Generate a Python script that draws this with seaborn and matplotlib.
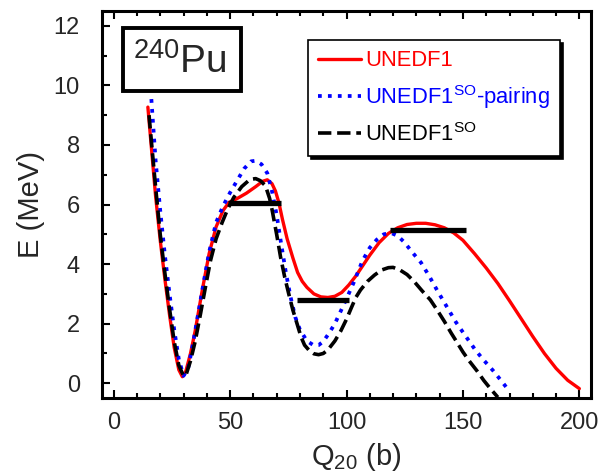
import seaborn as sns
import pandas as pd
import matplotlib.pyplot as plt
from matplotlib.patches import Rectangle
from matplotlib.ticker import MultipleLocator

# deformation energy curves
q_unedf1 = [14.7, 16, 18, 20, 22, 24, 26, 28, 29.5, 31, 33, 35, 38, 41, 44, 47, 49.5, 53, 57, 61,
            64, 66, 68, 69.5, 71, 72.5, 74.5, 77, 79, 81, 83, 86, 89, 92, 95, 98, 101, 104, 107, 110,
            114, 118, 122, 126, 130, 134, 138, 142, 146, 150, 155, 160, 165, 170, 175, 180, 185, 190,
            195, 200]
e_unedf1 = [9.27, 8.1, 6.3, 4.8, 3.5, 2.3, 1.2, 0.45, 0.22, 0.4, 1.0, 1.75, 3.1, 4.35, 5.25, 5.8, 6.07,
            6.2, 6.38, 6.6, 6.78, 6.83, 6.7, 6.45, 6.05, 5.5, 4.85, 4.2, 3.72, 3.42, 3.22, 3.0, 2.9, 2.88,
            2.92, 3.05, 3.3, 3.6, 3.95, 4.3, 4.72, 5.03, 5.22, 5.33, 5.37, 5.37, 5.32, 5.22, 5.05, 4.8,
            4.35, 3.87, 3.35, 2.77, 2.17, 1.57, 1.0, 0.5, 0.1, -0.18]

q_so_pair = [16.2, 18, 20, 22, 24, 26, 28, 30, 32, 34, 36, 38, 41, 44, 47, 50, 53, 56, 59, 61, 63.5,
             66, 68, 70, 72, 74, 76, 78, 80, 83, 86, 88, 90, 92.5, 95, 98, 100.3, 103.2, 106.8, 110,
             113, 116, 119, 122, 125, 128, 132, 135.5, 139, 143, 147, 151, 155.5, 159, 163, 166.5, 170]
e_so_pair = [9.54, 7.5, 5.8, 4.3, 3.0, 1.8, 0.8, 0.25, 0.5, 1.3, 2.2, 3.1, 4.4, 5.4, 5.95, 6.4, 6.8, 7.2,
             7.45, 7.47, 7.35, 7.05, 6.45, 5.65, 4.65, 3.7, 2.89, 2.22, 1.8, 1.42, 1.27, 1.28, 1.4, 1.68,
             2.0, 2.5, 2.89, 3.4, 4.1, 4.55, 4.82, 5.0, 5.05, 4.95, 4.72, 4.42, 4.05, 3.6, 3.11, 2.58,
             2.05, 1.6, 1.1, 0.77, 0.42, 0.08, -0.27]

q_so = [15.2, 16, 18, 20, 22, 24, 26, 28, 30, 31, 33, 35, 37.3, 39.4, 41.6, 44, 46.6, 49, 51.6, 55, 58.5,
        61, 63, 65.2, 67, 68.1, 70, 71.7, 73.5, 75.2, 77, 78.8, 80.5, 82, 84, 86, 88, 90, 92, 95, 97.5,
        100, 102, 104, 106, 109, 112, 115, 118, 120, 123, 126, 129, 132.5, 136, 139, 142, 145, 147,
        150, 152.6, 156, 159, 162, 165]
e_so = [9.0, 8.3, 6.6, 5.0, 3.7, 2.5, 1.4, 0.6, 0.25, 0.26, 0.75, 1.4, 2.33, 3.22, 4.12, 4.85, 5.4, 5.85,
        6.24, 6.6, 6.84, 6.87, 6.8, 6.63, 6.2, 5.8, 5.0, 4.23, 3.55, 3.0, 2.45, 1.99, 1.55, 1.28, 1.1,
        0.99, 0.96, 1.0, 1.12, 1.42, 1.75, 2.15, 2.52, 2.88, 3.13, 3.42, 3.63, 3.8, 3.88, 3.89, 3.8,
        3.65, 3.42, 3.1, 2.8, 2.45, 2.08, 1.68, 1.43, 1.05, 0.76, 0.42, 0.09, -0.2, -0.47]

# experimental barrier heights / isomer energy
bar_e = [6.05, 2.81, 5.16]
bar_lo = [49, 78.8, 118.7]
bar_hi = [71.7, 101, 151.2]

sns.set_style('ticks')
plt.rcParams['font.family'] = ['Liberation Sans', 'DejaVu Sans']
plt.rcParams['mathtext.fontset'] = 'custom'
plt.rcParams['mathtext.rm'] = 'Liberation Sans'
plt.rcParams['mathtext.it'] = 'Liberation Sans:italic'
plt.rcParams['mathtext.bf'] = 'Liberation Sans:bold'

fig = plt.figure(figsize=(6, 4.74), dpi=100)
ax = fig.add_axes([0.17, 0.16, 0.815, 0.817])

sns.lineplot(x=q_unedf1, y=e_unedf1, color='#ff0000', lw=2.4, estimator=None, sort=False,
             label='UNEDF1', ax=ax)
sns.lineplot(x=q_so_pair, y=e_so_pair, color='#0000ff', lw=2.7, linestyle=':', estimator=None,
             sort=False, label=r'UNEDF1$^{\mathrm{SO}}$-pairing', ax=ax)
sns.lineplot(x=q_so, y=e_so, color='black', lw=2.6, linestyle='--', estimator=None, sort=False,
             label=r'UNEDF1$^{\mathrm{SO}}$', ax=ax)
ax.hlines(bar_e, bar_lo, bar_hi, colors='black', lw=3.8, zorder=5)

ax.set_xlim(-5, 205)
ax.set_ylim(-0.5, 12.5)
ax.xaxis.set_major_locator(MultipleLocator(50))
ax.xaxis.set_minor_locator(MultipleLocator(10))
ax.yaxis.set_major_locator(MultipleLocator(2))
ax.yaxis.set_minor_locator(MultipleLocator(1))
ax.tick_params(which='both', direction='in', top=True, right=False, width=1.5, color='black')
ax.tick_params(which='major', length=6)
ax.tick_params(which='minor', length=3.5)
ax.tick_params(axis='x', which='major', labelsize=17, pad=10)
ax.tick_params(axis='y', which='major', labelsize=17, pad=16)
for sp in ax.spines.values():
    sp.set_linewidth(2.2)
    sp.set_color('black')
ax.grid(False)

ax.set_xlabel(r'Q$_{20}$ (b)', fontsize=21, labelpad=5)
ax.xaxis.label.set_x(0.52)
ax.set_ylabel('E (MeV)', fontsize=21, labelpad=6)

# nucleus label box
ax.add_patch(Rectangle((0.042, 0.793), 0.242, 0.162, transform=ax.transAxes, fill=False,
                       lw=2.8, edgecolor='black', zorder=6))
ax.text(0.160, 0.868, r'$^{240}$Pu', transform=ax.transAxes, fontsize=28, ha='center',
        va='center', zorder=6)

leg = ax.legend(loc='upper left', bbox_to_anchor=(0.422, 0.924), borderaxespad=0, fontsize=15.8,
                labelcolor='linecolor', frameon=True, fancybox=False, edgecolor='black',
                framealpha=1, shadow={'color': 'black', 'alpha': 1}, handlelength=1.95,
                handletextpad=0.2, borderpad=0.45, labelspacing=0.55)
leg.get_frame().set_linewidth(1.2)

plt.savefig('out.png', dpi=100)
